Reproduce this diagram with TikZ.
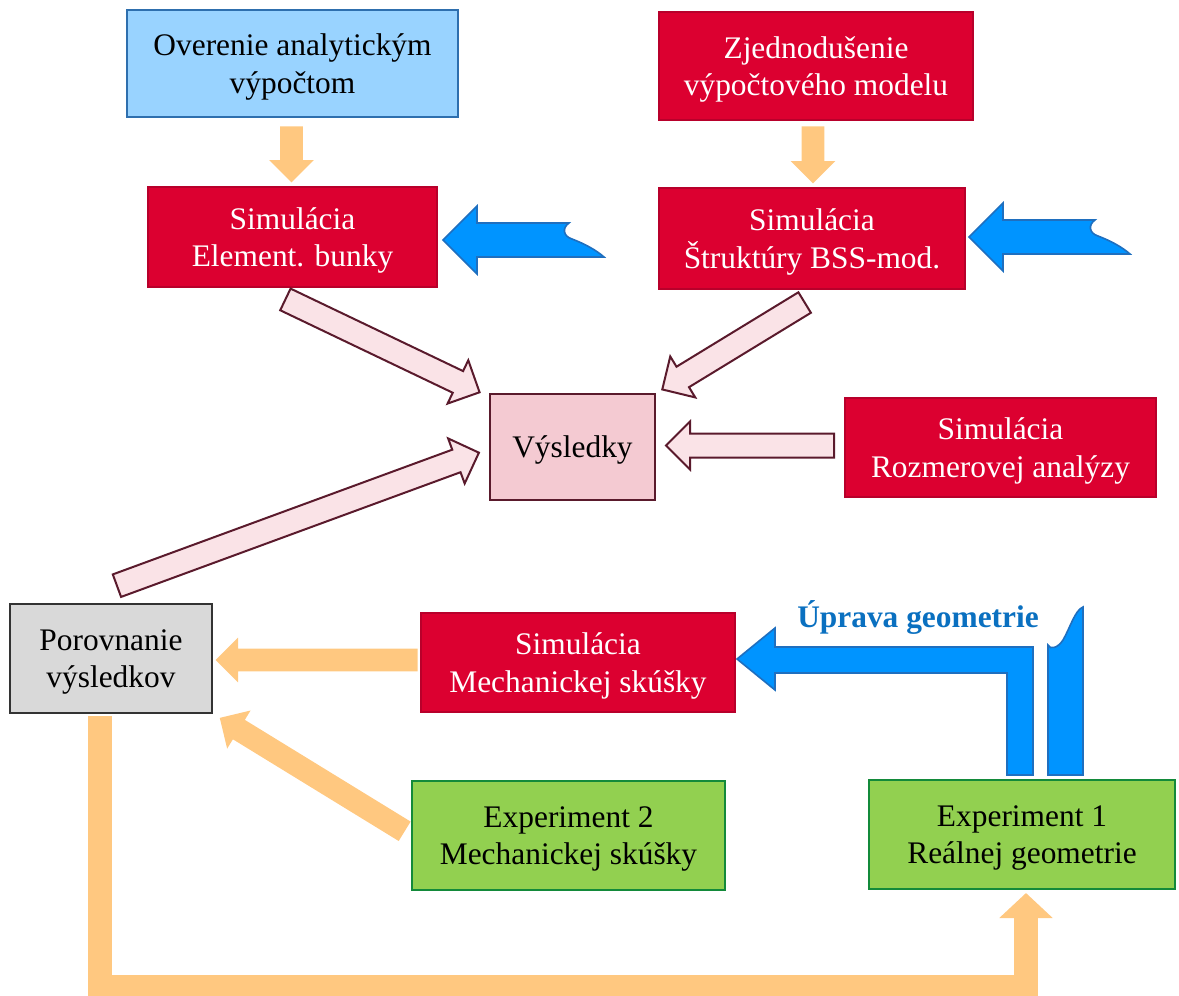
\documentclass[tikz,border=0pt]{standalone}
\usepackage{fontspec}
\setmainfont{Liberation Serif}
\usetikzlibrary{calc,shapes.arrows,arrows.meta}
\definecolor{lightblu}{HTML}{99D3FF}
\definecolor{lightbluline}{HTML}{2E6FAE}
\definecolor{boxred}{HTML}{DC0030}
\definecolor{boxredline}{HTML}{B8002B}
\definecolor{respink}{HTML}{F4CAD2}
\definecolor{maroon}{HTML}{5A1A2C}
\definecolor{arrpink}{HTML}{FAE3E7}
\definecolor{boxgray}{HTML}{D9D9D9}
\definecolor{boxgreen}{HTML}{92D050}
\definecolor{greenline}{HTML}{138A3A}
\definecolor{orng}{HTML}{FFC880}
\definecolor{blu}{HTML}{0094FF}
\definecolor{bluline}{HTML}{1F6FBF}
\definecolor{blutext}{HTML}{0A70C0}
\newcommand\blockarrow[3]{%
\path let \p1=($(#3)-(#2)$),\n1={atan2(\y1,\x1)},\n2={veclen(\x1,\y1)} in
node[#1,rotate=\n1,minimum height=\n2] at (#2) {};}

\begin{document}
\begin{tikzpicture}[x=0.5pt,y=-0.5pt,
box/.style={draw,line width=1pt,align=center,inner sep=0pt,text depth=0pt,font=\fontsize{15.7}{18.8}\selectfont},
redbox/.style={box,fill=boxred,draw=boxredline,text=white},
greenbox/.style={box,fill=boxgreen,draw=greenline},
arr/.style={single arrow,anchor=tail,inner xsep=0pt,minimum width=0pt,single arrow tip angle=90},
orarrow/.style={arr,fill=orng,inner ysep=5.5pt,single arrow head extend=5.5pt},
pinkarrow/.style={arr,fill=arrpink,draw=maroon,line width=1pt,inner ysep=5.5pt,single arrow head extend=6pt},
bluarrow/.style={fill=blu,draw=bluline,line width=0.8pt,line join=miter},
wavearrow/.pic={\path[bluarrow] (0,0)--(34,-34)--(34,-17)--(126,-17)
 .. controls (119,-12) and (120,-4) .. (129,-1) .. controls (142,4) and (153,10) .. (161,17)
 --(34,17)--(34,34)--cycle;}]
\useasboundingbox (0,0) rectangle (1179,996);

\node[box,fill=lightblu,draw=lightbluline,minimum width=165.5pt,minimum height=53.5pt] (over) at (292.5,63.5) {Overenie analytickým\\výpočtom};
\node[redbox,minimum width=157pt,minimum height=54pt] (zjed) at (816,66) {Zjednodušenie\\výpočtového modelu};
\node[redbox,minimum width=144.5pt,minimum height=50pt] (elem) at (292.5,237) {Simulácia\\Element. bunky};
\node[redbox,minimum width=153pt,minimum height=50.5pt] (strk) at (812,238.5) {Simulácia\\Štruktúry BSS-mod.};
\node[box,fill=respink,draw=maroon,minimum width=82.5pt,minimum height=53pt] (vysl) at (572.5,447) {Výsledky};
\node[redbox,minimum width=155.5pt,minimum height=49.5pt] (rozm) at (1000.5,447.5) {Simulácia\\Rozmerovej analýzy};
\node[box,fill=boxgray,draw=black!80,line width=1.3pt,minimum width=101pt,minimum height=54.5pt] (porov) at (111,658.5) {Porovnanie\\výsledkov};
\node[redbox,minimum width=157pt,minimum height=49.5pt] (mech) at (578,662.5) {Simulácia\\Mechanickej skúšky};
\node[greenbox,minimum width=156.5pt,minimum height=54.5pt] (exp2) at (568.5,835.5) {Experiment 2\\Mechanickej skúšky};
\node[greenbox,minimum width=153pt,minimum height=54.5pt] (exp1) at (1022,834.5) {Experiment 1\\Reálnej geometrie};

% arrow ends
\coordinate (a1) at ($(over.south)+(-1,8)$);
\coordinate (b1) at ($(elem.north)+(-1,-4)$);
\coordinate (a2) at ($(zjed.south)+(-3,5)$);
\coordinate (b2) at ($(strk.north)+(1,-4)$);
\coordinate (p1) at (284.5,299);
\coordinate (q1) at (479,392);
\coordinate (p2) at (805.5,302);
\coordinate (q2) at (663,389);
\coordinate (p3) at (116,586);
\coordinate (q3) at (478,453);
\coordinate (p4) at (835,445.5);
\coordinate (q4) at (667,445.5);
\coordinate (o1) at (418,660);
\coordinate (r1) at (216,660);
\coordinate (o2) at (405,831.5);
\coordinate (r2) at (220,718);
\coordinate (la) at (100,716);
\coordinate (lb) at (1026,893);

\blockarrow{orarrow}{a1}{b1}
\blockarrow{orarrow}{a2}{b2}
\blockarrow{pinkarrow}{p1}{q1}
\blockarrow{pinkarrow}{p2}{q2}
\blockarrow{pinkarrow}{p3}{q3}
\blockarrow{pinkarrow}{p4}{q4}
\blockarrow{orarrow}{o1}{r1}
\blockarrow{orarrow}{o2}{r2}
\draw[orng,line width=12pt,line join=miter,-{Triangle[length=12.5pt,width=26pt]}] (la)--(100,987)-|(lb);

\pic at (443,240) {wavearrow};
\pic at (969,237) {wavearrow};
\path[bluarrow] (737,659)--(775,628)--(775,647)--(1033,647)--(1033,775)--(1007,775)--(1007,673)--(775,673)--(775,690)--cycle;
\path[bluarrow] (1048,775)--(1048,645) .. controls (1050,650) and (1058,648) .. (1063,640)
 .. controls (1070,628) and (1075,610) .. (1083,607)--(1083,775)--cycle;
\node[text=blutext,font=\fontsize{15.7}{18.5}\selectfont\bfseries] (upr) at (918,617) {Úprava geometrie};
\end{tikzpicture}
\end{document}
